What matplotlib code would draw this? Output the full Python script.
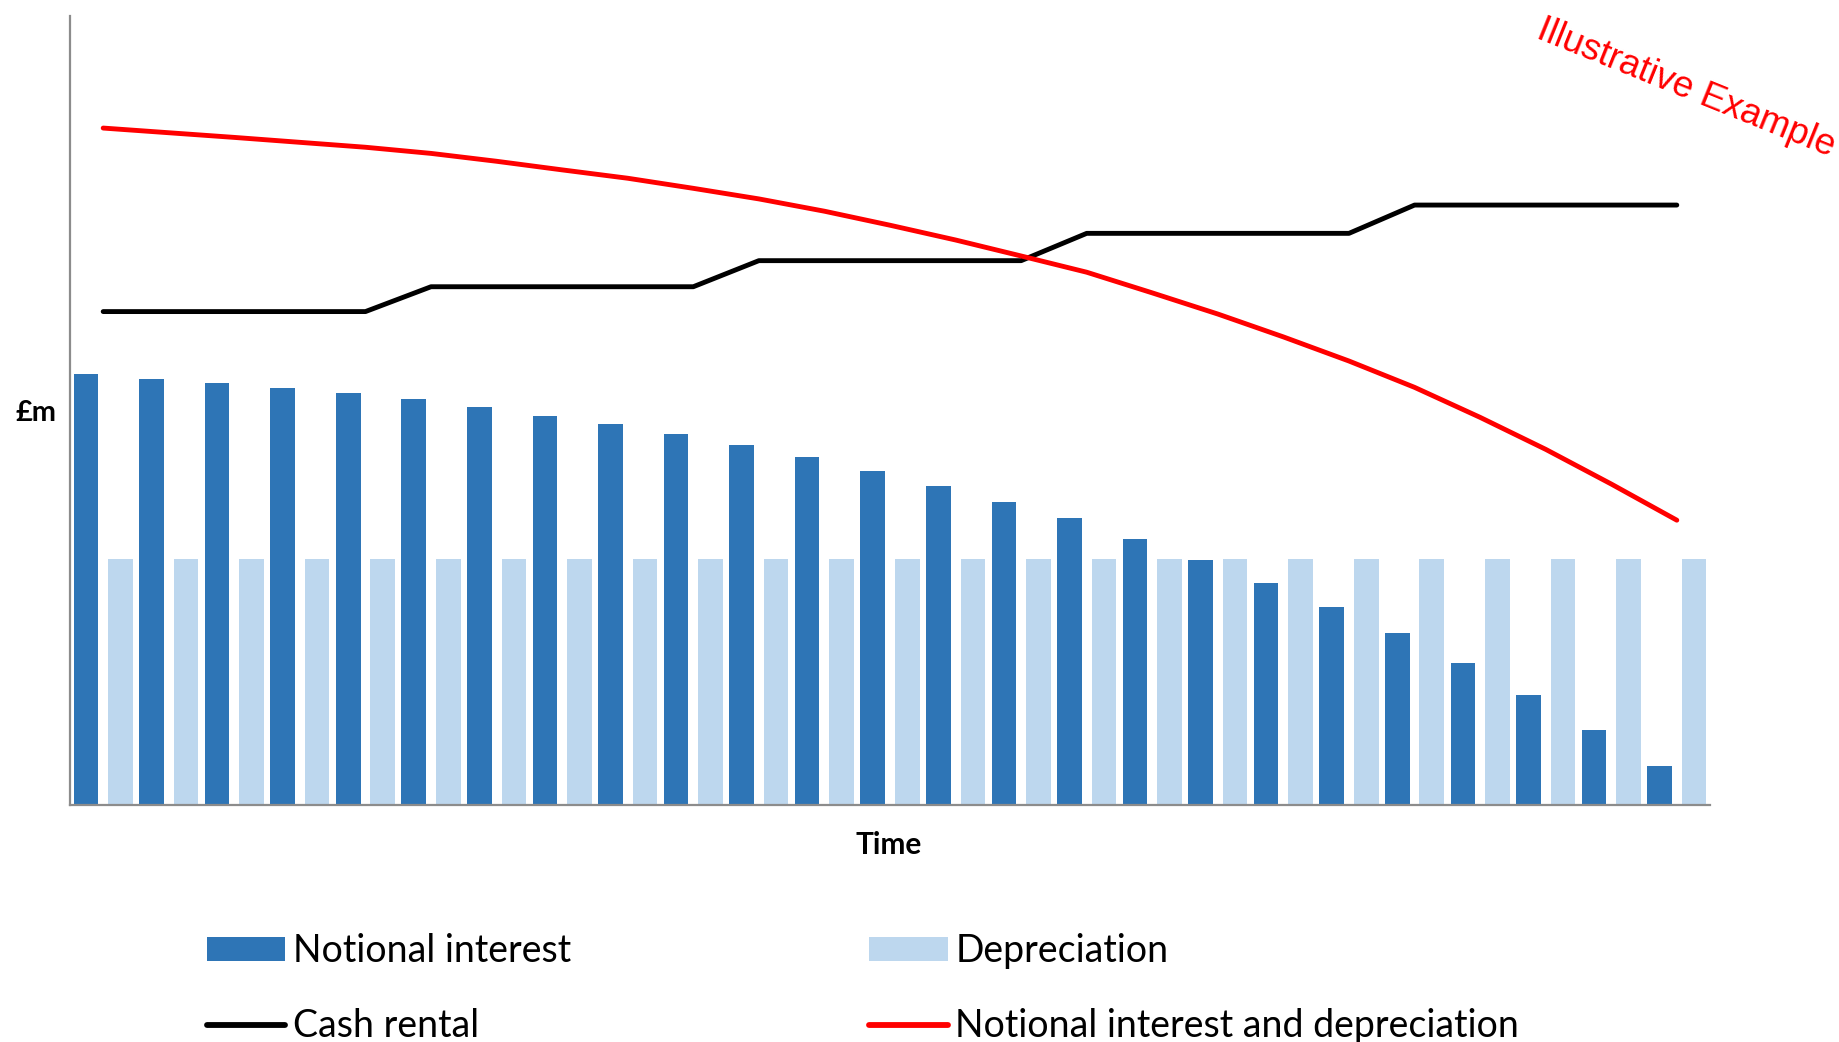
import numpy as np
import matplotlib
matplotlib.use("Agg")
import matplotlib.pyplot as plt
from matplotlib.patches import Patch
from matplotlib.lines import Line2D

# ---- data (£m, illustrative) ----
periods = list(range(1, 26))
notional_interest = [17.53, 17.34, 17.15, 16.95, 16.75, 16.50, 16.18, 15.83, 15.49,
                     15.08, 14.65, 14.15, 13.58, 12.98, 12.33, 11.67, 10.83, 9.97,
                     9.04, 8.06, 6.99, 5.77, 4.47, 3.06, 1.59]
depreciation = [10.0] * 25
cash_rental = [20.07, 20.07, 20.07, 20.07, 20.07,
               21.08, 21.08, 21.08, 21.08, 21.08,
               22.14, 22.14, 22.14, 22.14, 22.14,
               23.25, 23.25, 23.25, 23.25, 23.25,
               24.40, 24.40, 24.40, 24.40, 24.40]

labels = ["Notional interest", "Depreciation", "Cash rental",
          "Notional interest and depreciation"]

DARK = "#2E75B6"
LIGHT = "#BDD7EE"
RED = "#FF0000"
SPINE = "#8C8C8C"
FONT = "Lato"

W, H = 1839, 1042
fig = plt.figure(figsize=(W / 100, H / 100), dpi=100)
ax = fig.add_axes([70.4 / W, (H - 805.3) / H, 1639.2 / W, 789.3 / H])

x = np.arange(len(periods))
interest = np.array(notional_interest)
dep = np.array(depreciation)
total = interest + dep

bw = 0.375
off = 0.263
ax.bar(x - off, interest, width=bw, color=DARK, zorder=2)
ax.bar(x + off, dep, width=bw, color=LIGHT, zorder=2)
ax.plot(x, cash_rental, color="black", lw=3.5, solid_capstyle="round", zorder=3)
ax.plot(x, total, color=RED, lw=3.5, solid_capstyle="round", zorder=3)

ax.set_xlim(-0.5, len(periods) - 0.5)
ax.set_ylim(0, 789.3 / 24.6)
ax.set_xticks([])
ax.set_yticks([])
for s in ("top", "right"):
    ax.spines[s].set_visible(False)
for s in ("left", "bottom"):
    ax.spines[s].set_color(SPINE)
    ax.spines[s].set_linewidth(1.6)
    ax.spines[s].set_zorder(4)

# axis titles
fig.text(35.5 / W, 1 - 421 / H, "£m", ha="center", va="baseline",
         fontsize=21, fontweight="bold", family=FONT)
fig.text(889 / W, 1 - 854.5 / H, "Time", ha="center", va="baseline",
         fontsize=21.5, fontweight="bold", family=FONT)

# watermark-style note
fig.text(1686 / W, 1 - 88 / H, "Illustrative Example", color=RED,
         fontsize=26.5, family="Liberation Sans", rotation=-22,
         ha="center", va="center", rotation_mode="anchor")

# legend: two columns
leg_kw = dict(loc="upper left", frameon=False, borderpad=0, borderaxespad=0,
              handlelength=2.1, handleheight=0.61, handletextpad=0.2,
              labelspacing=1.05, prop={"family": FONT, "size": 27})
col1 = [Patch(facecolor=DARK), Line2D([], [], color="black", lw=4.2, solid_capstyle="round")]
col2 = [Patch(facecolor=LIGHT), Line2D([], [], color=RED, lw=4.2, solid_capstyle="round")]
fig.legend(col1, [labels[0], labels[2]], bbox_to_anchor=(206.7 / W, 1 - 933 / H), **leg_kw)
fig.legend(col2, [labels[1], labels[3]], bbox_to_anchor=(869 / W, 1 - 933 / H), **leg_kw)

fig.savefig("out.png", dpi=100)
